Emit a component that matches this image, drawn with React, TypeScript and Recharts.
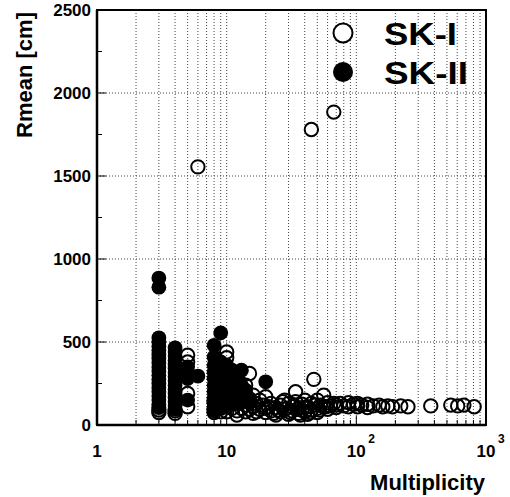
import { ScatterChart, Scatter, XAxis, YAxis, CartesianGrid, ReferenceArea } from 'recharts';

// SK-I (open circles): multiplicity and Rmean [cm]
const skIMult = [
  3, 3, 4, 4, 5, 5, 5, 5, 5, 6,
  8, 8, 8, 9, 9, 10, 10, 10, 10, 10, 10, 10,
  11, 11, 11, 12, 12, 12, 13, 13, 14, 14, 14, 15, 15, 15,
  16, 16, 17, 17, 18, 18, 19, 20, 20, 20, 22, 22, 24, 24,
  26, 26, 28, 28, 30, 30, 32, 32, 34, 34, 36, 36, 38, 38,
  40, 40, 42, 42, 45, 45, 45, 47, 50, 50, 50, 53, 56, 56,
  60, 60, 63, 67, 67, 70, 70, 75, 80, 87, 87, 95,
  102, 102, 110, 122, 122, 135, 150, 160, 175, 190, 220, 250,
  375, 535, 605, 675, 810,
  12, 16, 21, 23, 25, 27, 29, 31, 33, 35, 37, 39, 44, 48, 52, 58,
];
const skIRmean = [
  75, 90, 70, 85, 110, 190, 290, 380, 420, 1555,
  75, 95, 140, 80, 110, 440, 405, 310, 230, 160, 110, 80,
  250, 170, 100, 210, 130, 85, 160, 100, 240, 120, 80, 310, 140, 95,
  180, 110, 130, 80, 150, 95, 120, 170, 100, 75, 130, 85, 105, 60,
  120, 80, 150, 95, 130, 65, 110, 85, 200, 140, 100, 70, 125, 90,
  150, 80, 110, 65, 1780, 130, 90, 275, 150, 100, 75, 120, 180, 110,
  135, 95, 115, 1885, 130, 120, 105, 130, 115, 135, 110, 125,
  130, 110, 120, 125, 105, 115, 120, 110, 115, 110, 115, 110,
  115, 120, 115, 120, 110,
  60, 70, 110, 70, 90, 140, 100, 75, 120, 95, 60, 105, 75, 120, 90, 110,
];

// SK-II (filled circles)
const skIIMult = [
  3, 3, 3, 3, 3, 3, 3, 3, 3, 3, 3, 3, 3, 3, 3, 3, 3, 3, 3, 3,
  4, 4, 4, 4, 4, 4, 4, 4, 4, 4, 4, 4, 4, 4, 4, 4,
  5, 5, 5, 6,
  8, 8, 8, 8, 8, 8, 8, 8, 8, 8, 8,
  9, 9, 9, 9, 9, 9, 9, 9,
  10, 10, 10, 10, 10, 10,
  11, 11, 11, 11, 12, 12, 12, 13, 13, 13, 14, 14, 15, 20,
];
const skIIRmean = [
  885, 830, 525, 500, 475, 450, 425, 400, 375, 350, 325, 300, 275, 250, 225, 200, 175, 150, 125, 105,
  465, 440, 415, 390, 365, 340, 315, 290, 265, 240, 215, 190, 165, 140, 115, 95,
  350, 280, 150, 295,
  480, 410, 360, 320, 280, 240, 200, 160, 130, 100, 85,
  555, 380, 330, 270, 220, 170, 130, 100,
  360, 300, 250, 200, 150, 120,
  330, 260, 180, 130, 290, 220, 150, 330, 240, 170, 210, 140, 160, 260,
];

const xTicks = [1, 2, 3, 4, 5, 6, 7, 8, 9, 10, 20, 30, 40, 50, 60, 70, 80, 90, 100, 200, 300, 400, 500, 600, 700, 800, 900, 1000];
const yTicks = [0, 250, 500, 750, 1000, 1250, 1500, 1750, 2000, 2250, 2500];
const yLabels = [0, 500, 1000, 1500, 2000, 2500];
const yGrid = [500, 1000, 1500, 2000];

const skIData = skIMult.map((m, i) => ({ m, r: skIRmean[i] }));
const skIIData = skIIMult.map((m, i) => ({ m, r: skIIRmean[i] }));

const FONT = '"Liberation Sans", Arial, Helvetica, sans-serif';

const XTick = (props: any) => {
  const { x, y, payload } = props;
  const v = payload.value;
  const major = v === 1 || v === 10 || v === 100 || v === 1000;
  let label: any = null;
  if (v === 1 || v === 10) {
    label = (
      <text x={x} y={y + 32} textAnchor="middle" fontSize={17} fontWeight="bold" fontFamily={FONT} fill="#000">
        {v}
      </text>
    );
  } else if (v === 100 || v === 1000) {
    label = (
      <g>
        <text x={x} y={y + 32} textAnchor="middle" fontSize={17} fontWeight="bold" fontFamily={FONT} fill="#000">10</text>
        <text x={x + 12} y={y + 18} textAnchor="start" fontSize={12} fontWeight="bold" fontFamily={FONT} fill="#000">
          {v === 100 ? '2' : '3'}
        </text>
      </g>
    );
  }
  return (
    <g>
      <line x1={x} y1={y} x2={x} y2={y - (major ? 9 : 5)} stroke="#000" strokeWidth={1} />
      {label}
    </g>
  );
};

const YTick = (props: any) => {
  const { x, y, payload } = props;
  const v = payload.value;
  const major = v % 500 === 0;
  return (
    <g>
      <line x1={x} y1={y} x2={x + (major ? 9 : 5)} y2={y} stroke="#000" strokeWidth={1} />
      {yLabels.includes(v) && (
        <text x={x - 6} y={y} dy={6} textAnchor="end" fontSize={17} fontWeight="bold" fontFamily={FONT} fill="#000">
          {v}
        </text>
      )}
    </g>
  );
};

const OpenDot = (props: any) => (
  <circle cx={props.cx} cy={props.cy} r={6.7} fill="none" stroke="#000" strokeWidth={2} />
);
const FilledDot = (props: any) => <circle cx={props.cx} cy={props.cy} r={7.4} fill="#000" />;

export default function App() {
  return (
    <div style={{ position: 'absolute', left: 0, top: 0, width: 510, height: 497, background: '#fff' }}>
      <ScatterChart width={510} height={497} margin={{ top: 10, right: 24, bottom: 0, left: 0 }}>
        <CartesianGrid stroke="#444" strokeDasharray="1 2" horizontalValues={yGrid} />
        <XAxis
          dataKey="m"
          type="number"
          scale="log"
          domain={[1, 1000]}
          ticks={xTicks}
          interval={0}
          allowDataOverflow
          height={72}
          tickSize={0}
          tickMargin={0}
          tickLine={false}
          tick={<XTick />}
          axisLine={{ stroke: '#000', strokeWidth: 2.5 }}
        />
        <YAxis
          dataKey="r"
          type="number"
          domain={[0, 2500]}
          ticks={yTicks}
          interval={0}
          allowDataOverflow
          width={97}
          tickSize={0}
          tickMargin={0}
          tickLine={false}
          tick={<YTick />}
          axisLine={{ stroke: '#000', strokeWidth: 2.5 }}
        />
        <ReferenceArea x1={1} x2={1000} y1={0} y2={2500} fill="none" stroke="#000" strokeWidth={2} />
        <Scatter data={skIData} shape={<OpenDot />} isAnimationActive={false} />
        <Scatter data={skIIData} shape={<FilledDot />} isAnimationActive={false} />
      </ScatterChart>
      <svg width={510} height={497} style={{ position: 'absolute', left: 0, top: 0, pointerEvents: 'none' }}>
        <text
          x={32}
          y={75}
          transform="rotate(-90, 32, 75)"
          textAnchor="middle"
          fontSize={22}
          fontWeight="bold"
          fontFamily={FONT}
          fill="#000"
        >
          Rmean [cm]
        </text>
        <text x={485} y={490} textAnchor="end" fontSize={22} fontWeight="bold" fontFamily={FONT} fill="#000">
          Multiplicity
        </text>
        <circle cx={343} cy={33} r={9.5} fill="#fff" stroke="#000" strokeWidth={2} />
        <text x={384} y={45} fontSize={32} fontWeight="bold" fontFamily={FONT} fill="#000" textLength={73} lengthAdjust="spacingAndGlyphs">SK-I</text>
        <circle cx={343} cy={72} r={10} fill="#000" />
        <text x={384} y={84} fontSize={32} fontWeight="bold" fontFamily={FONT} fill="#000" textLength={84} lengthAdjust="spacingAndGlyphs">SK-II</text>
      </svg>
    </div>
  );
}
